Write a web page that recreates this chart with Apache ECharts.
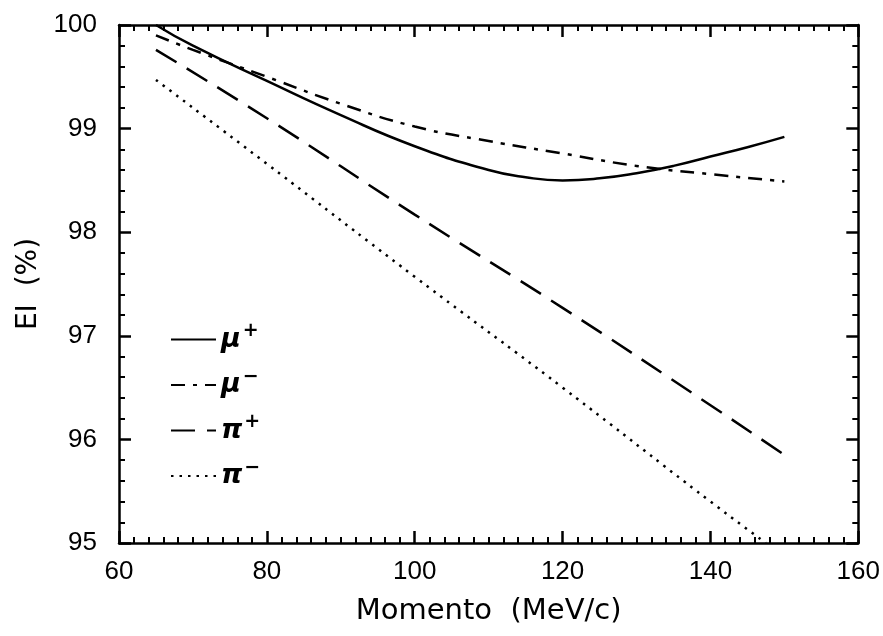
<!DOCTYPE html>
<html>
<head>
<meta charset="utf-8">
<script src="https://cdn.jsdelivr.net/npm/echarts@6/dist/echarts.min.js"></script>
<style>
  html, body { margin: 0; padding: 0; background: #fff; }
  #chart { width: 883px; height: 636px; }
</style>
</head>
<body>
<div id="chart"></div>
<script>
// momento (MeV/c) e valori EI (%)
var muPlusX   = [65, 70, 80, 90, 100, 110, 115, 120, 125, 130, 135, 140, 145, 150];
var muPlusY   = [100.0, 99.8, 99.46, 99.13, 98.83, 98.6, 98.53, 98.5, 98.52, 98.57, 98.64, 98.73, 98.82, 98.92];
var muMinusX  = [65, 70, 80, 90, 100, 110, 120, 130, 140, 150];
var muMinusY  = [99.9, 99.76, 99.5, 99.24, 99.02, 98.88, 98.76, 98.64, 98.56, 98.49];
var piPlusX   = [65, 80, 100, 120, 140, 150];
var piPlusY   = [99.76, 99.1, 98.17, 97.27, 96.33, 95.85];
var piMinusX  = [65, 80, 100, 120, 140, 147.5];
var piMinusY  = [99.47, 98.66, 97.57, 96.5, 95.4, 95.0];
var xTicks = [60, 80, 100, 120, 140, 160];
var yTicks = [95, 96, 97, 98, 99, 100];

function pairs(xs, ys) {
	return xs.map(function (x, i) { return [x, ys[i]]; });
}

var FONT = 'Liberation Sans';

// assi a specchio (sopra e a destra) con tacche verso l'interno
function xAxisCfg(pos, showLabel) {
	return {
		type: 'value', position: pos, min: xTicks[0], max: xTicks[xTicks.length - 1], interval: 20,
		axisLine: { show: true, onZero: false, lineStyle: { color: '#000', width: 2.5 } },
		axisTick: { show: true, inside: true, length: 12, lineStyle: { color: '#000', width: 2.5 } },
		minorTick: { show: true, splitNumber: 10, length: 6, lineStyle: { color: '#000', width: 2 } },
		splitLine: { show: false },
		axisLabel: { show: showLabel, color: '#000', fontFamily: FONT, fontSize: 26, margin: 16 },
		name: showLabel ? 'Momento  (MeV/c)' : '',
		nameLocation: 'middle', nameGap: 54,
		nameTextStyle: { color: '#000', fontFamily: 'DejaVu Sans', fontSize: 29 }
	};
}
function yAxisCfg(pos, showLabel) {
	return {
		type: 'value', position: pos, min: yTicks[0], max: yTicks[yTicks.length - 1], interval: 1,
		axisLine: { show: true, onZero: false, lineStyle: { color: '#000', width: 2.5 } },
		axisTick: { show: true, inside: true, length: 12, lineStyle: { color: '#000', width: 2.5 } },
		minorTick: { show: true, splitNumber: 5, length: 6, lineStyle: { color: '#000', width: 2 } },
		splitLine: { show: false },
		axisLabel: { show: showLabel, color: '#000', fontFamily: FONT, fontSize: 26, margin: 22 },
		name: showLabel ? 'EI  (%)' : '',
		nameLocation: 'middle', nameGap: 76,
		nameTextStyle: { color: '#000', fontFamily: 'DejaVu Sans', fontSize: 28 }
	};
}

function lineSeries(name, data, dash) {
	return {
		name: name, type: 'line', data: data, smooth: true,
		xAxisIndex: 0, yAxisIndex: 0,
		symbol: 'none', showSymbol: false,
		lineStyle: { color: '#000', width: 2.5, type: dash },
		itemStyle: { color: '#000' }
	};
}

var myChart = echarts.init(document.getElementById('chart'));
var option = {
	backgroundColor: '#fff',
	animation: false,
	grid: { left: 119, right: 24, top: 25, bottom: 93 },
	xAxis: [xAxisCfg('bottom', true), xAxisCfg('top', false)],
	yAxis: [yAxisCfg('left', true), yAxisCfg('right', false)],
	legend: {
		orient: 'vertical', left: 165, top: 317,
		itemWidth: 45, itemHeight: 20, itemGap: 12,
		itemStyle: { opacity: 0 },
		data: ['mu+', 'mu-', 'pi+', 'pi-'],
		formatter: function (n) {
			var base = n.charAt(0) === 'm' ? 'μ' : 'π';
			var sign = n.charAt(2) === '+' ? '+' : '−';
			return '{b|' + base + '}{s|' + sign + '}';
		},
		textStyle: {
			color: '#000',
			rich: {
				b: { fontFamily: 'DejaVu Sans', fontStyle: 'italic', fontWeight: 'bold', fontSize: 27, color: '#000', height: 32, lineHeight: 32, verticalAlign: 'bottom' },
				s: { fontFamily: 'DejaVu Sans', fontWeight: 'bold', fontSize: 19, color: '#000', height: 16, lineHeight: 16, verticalAlign: 'top', padding: [0, 0, 0, 2] }
			}
		}
	},
	series: [
		lineSeries('mu+', pairs(muPlusX, muPlusY), 'solid'),
		lineSeries('mu-', pairs(muMinusX, muMinusY), [14, 8, 4, 8]),
		lineSeries('pi+', pairs(piPlusX, piPlusY), [24, 12]),
		lineSeries('pi-', pairs(piMinusX, piMinusY), [2.5, 6])
	]
};
myChart.setOption(option);
</script>
</body>
</html>
